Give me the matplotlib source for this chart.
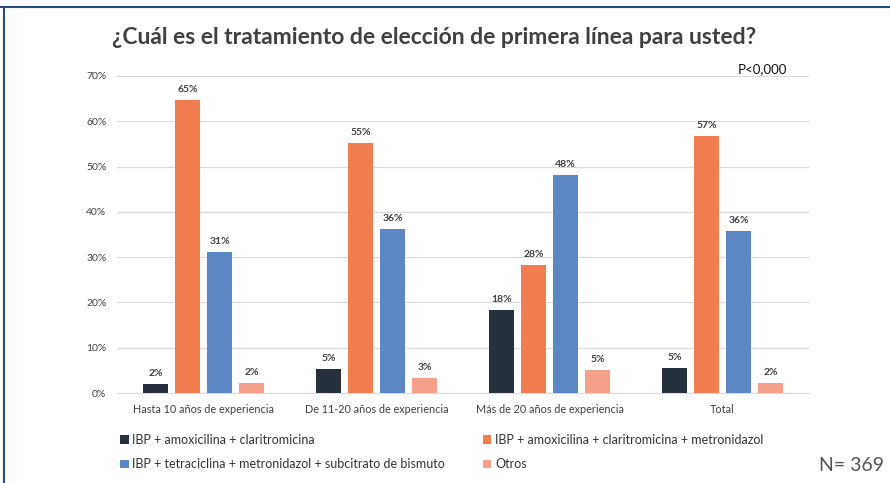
import matplotlib.pyplot as plt
from matplotlib.lines import Line2D
import numpy as np

plt.rcParams["font.family"] = ["Lato", "DejaVu Sans"]

categories = [
    "Hasta 10 años de experiencia",
    "De 11-20 años de experiencia",
    "Más de 20 años de experiencia",
    "Total",
]
series_names = [
    "IBP + amoxicilina + claritromicina",
    "IBP + amoxicilina + claritromicina + metronidazol",
    "IBP + tetraciclina + metronidazol + subcitrato de bismuto",
    "Otros",
]
amox_clari = [2.0, 5.3, 18.3, 5.5]
amox_clari_metro = [64.7, 55.2, 28.3, 56.7]
tetra_metro_bismuto = [31.1, 36.2, 48.1, 35.8]
otros = [2.2, 3.3, 5.1, 2.2]
value_labels = [
    ["2%", "5%", "18%", "5%"],
    ["65%", "55%", "28%", "57%"],
    ["31%", "36%", "48%", "36%"],
    ["2%", "3%", "5%", "2%"],
]
colors = ["#27313d", "#f07d4f", "#5b88c4", "#f5a18c"]


def main():
    fig = plt.figure(figsize=(8.9, 4.83), dpi=100)
    ax = fig.add_axes([0.132, 0.1863, 0.777, 0.6564])

    series = [amox_clari, amox_clari_metro, tetra_metro_bismuto, otros]
    x = np.arange(len(categories))
    width = 0.145
    pitch = 0.185
    bars = []
    for i, vals in enumerate(series):
        pos = x + (i - 1.5) * pitch
        b = ax.bar(pos, vals, width=width, color=colors[i], label=series_names[i], zorder=3)
        bars.append(b)
        for px, v, lab in zip(pos, vals, value_labels[i]):
            ax.text(px, v + 1.4, lab, ha="center", va="bottom", fontsize=7.5,
                    color="#404040", fontweight="bold")

    ax.set_xlim(-0.5, 3.5)
    ax.set_ylim(0, 70)
    ax.set_yticks(range(0, 71, 10))
    ax.set_yticklabels([f"{v}%" for v in range(0, 71, 10)], fontsize=7.5, color="#404040")
    ax.set_xticks(x)
    ax.set_xticklabels(categories, fontsize=7.8, color="#404040")
    ax.tick_params(length=0, pad=8)
    ax.tick_params(axis="y", pad=8)
    ax.grid(axis="y", color="#d9dce3", linewidth=0.9, zorder=0)
    for s in ["top", "right", "left"]:
        ax.spines[s].set_visible(False)
    ax.spines["bottom"].set_color("#d9dce3")

    fig.text(0.488, 0.922, "¿Cuál es el tratamiento de elección de primera línea para usted?",
             ha="center", va="center", fontsize=16.5, fontweight="bold", color="#404040")
    fig.text(0.857, 0.857, "P<0,000", ha="center", va="center", fontsize=9.5, color="#111111")
    fig.text(0.993, 0.037, "N= 369", ha="right", va="center", fontsize=14, color="#555555")

    order = [0, 2, 1, 3]
    fig.legend([bars[k] for k in order], [series_names[k] for k in order],
               ncol=2, loc="upper left", bbox_to_anchor=(0.122, 0.125),
               frameon=False, fontsize=9, handlelength=0.7, handleheight=0.7,
               handletextpad=0.3, columnspacing=3.0, labelspacing=1.0,
               labelcolor="#333333")

    # frame around the slide
    fig.add_artist(Line2D([0.0, 1.0], [0.986, 0.986], color="#2e4a7a", linewidth=1.5))
    fig.add_artist(Line2D([0.005, 0.005], [0.0, 0.986], color="#2e4a7a", linewidth=1.5))

    fig.savefig("out.png", dpi=100)


if __name__ == "__main__":
    main()
